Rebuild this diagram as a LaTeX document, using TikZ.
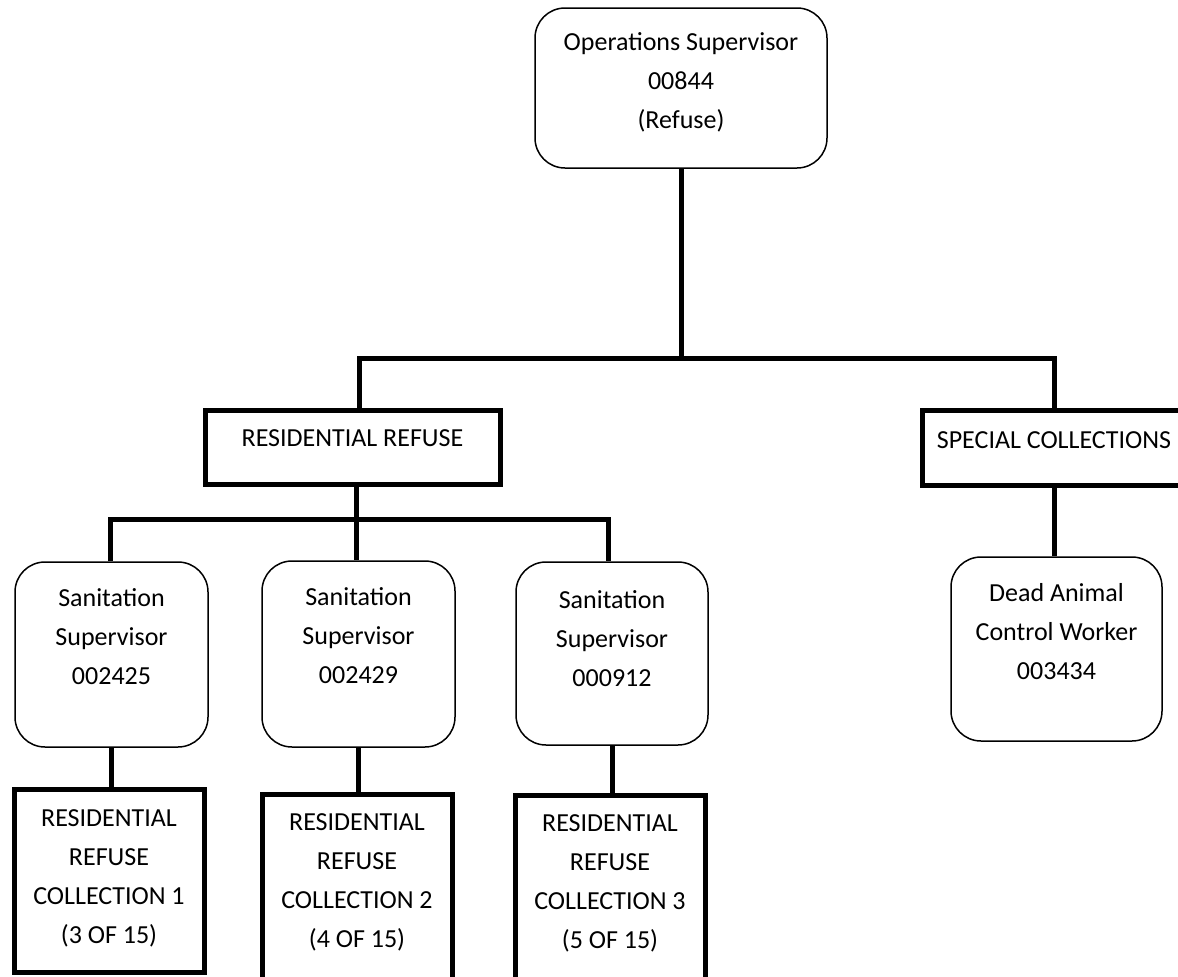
\documentclass[tikz,border=0pt]{standalone}
\usepackage{fontspec}
\setmainfont{Carlito}
\begin{document}
\begin{tikzpicture}[x=1pt,y=-1pt,
  rbox/.style={draw, line width=1.5pt, rounded corners=30pt, inner sep=0pt},
  sbox/.style={draw, line width=5pt, inner sep=0pt},
  conn/.style={line width=5pt},
  txt/.style={anchor=north, align=center, inner sep=0pt, font=\fontsize{26}{39}\selectfont}]
\useasboundingbox (0,0) rectangle (1178,977);
\newcommand{\fl}{\rule{0pt}{20pt}}
% boxes
\node[rbox, minimum width=292pt, minimum height=160pt] (ops) at (681,88) {};
\node[sbox, minimum width=295pt, minimum height=74pt] (rr) at (352.5,447) {};
\node[sbox, minimum width=264pt, minimum height=75pt] (sc) at (1054,447.5) {};
\node[rbox, minimum width=193pt, minimum height=185pt] (s1) at (111.5,654.5) {};
\node[rbox, minimum width=193pt, minimum height=186pt] (s2) at (358.5,654) {};
\node[rbox, minimum width=192pt, minimum height=183pt] (s3) at (612,653.5) {};
\node[rbox, minimum width=211pt, minimum height=184pt] (da) at (1056.5,649) {};
\node[sbox, minimum width=190pt, minimum height=182.5pt] (b1) at (109,881) {};
\node[sbox, minimum width=190pt, minimum height=191pt] (b2) at (357,889.5) {};
\node[sbox, minimum width=190pt, minimum height=190pt] (b3) at (610,890) {};
% texts
\node[txt] (tops) at (681,30) {\fl Operations Supervisor\\00844\\(Refuse)};
\node[txt] (trr) at (352.5,426) {\fl RESIDENTIAL REFUSE};
\node[txt] (tsc) at (1054,428) {\fl SPECIAL COLLECTIONS};
\node[txt] (ts1) at (111.5,586) {\fl Sanitation\\Supervisor\\002425};
\node[txt] (ts2) at (358.5,585) {\fl Sanitation\\Supervisor\\002429};
\node[txt] (ts3) at (612,588) {\fl Sanitation\\Supervisor\\000912};
\node[txt] (tda) at (1056.5,581) {\fl Dead Animal\\Control Worker\\003434};
\node[txt] (tb1) at (109,806) {\fl RESIDENTIAL\\REFUSE\\COLLECTION 1\\(3 OF 15)};
\node[txt] (tb2) at (357,810) {\fl RESIDENTIAL\\REFUSE\\COLLECTION 2\\(4 OF 15)};
\node[txt] (tb3) at (610,811) {\fl RESIDENTIAL\\REFUSE\\COLLECTION 3\\(5 OF 15)};
% connectors
\coordinate (bl) at (359.5,358);
\coordinate (br) at (1054,358);
\draw[conn] (ops.south) -- (ops.south |- bl);
\draw[conn] (bl |- rr.north) -- (bl) -- (br) -- (br |- sc.north);
\coordinate (cl) at (110.5,519);
\coordinate (cm) at (356.5,519);
\coordinate (cr) at (608.5,519);
\draw[conn] (cm |- rr.south) -- (cm |- s2.north);
\draw[conn] (cl |- s1.north) -- (cl) -- (cr) -- (cr |- s3.north);
\draw[conn] (s1.south) -- (s1.south |- b1.north);
\draw[conn] (s2.south) -- (s2.south |- b2.north);
\draw[conn] (s3.south) -- (s3.south |- b3.north);
\draw[conn] (sc.south) -- (sc.south |- da.north);
\end{tikzpicture}
\end{document}
